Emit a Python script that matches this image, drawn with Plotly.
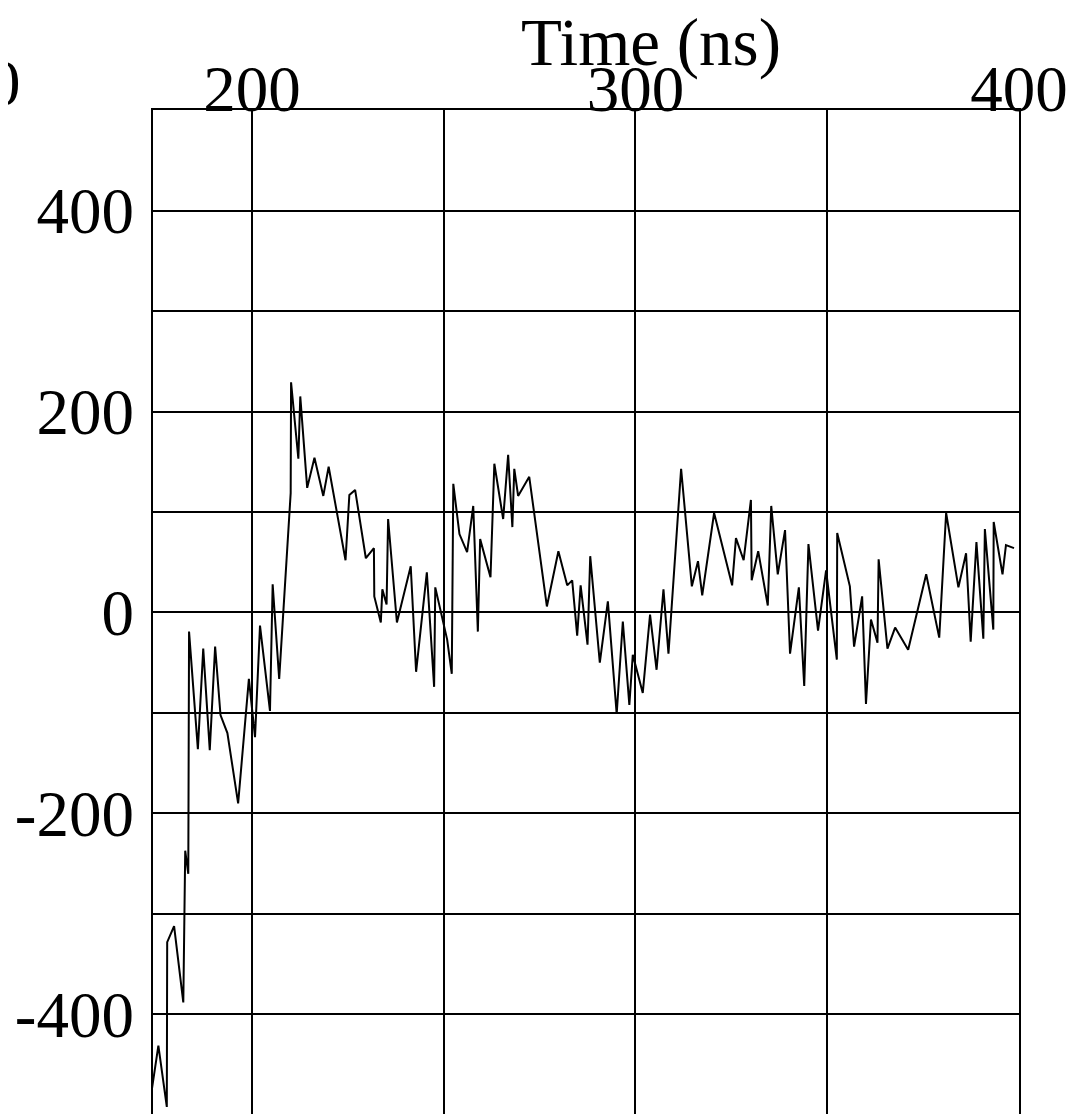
import plotly.graph_objects as go

# Time axis (ns) and signal values
time_ns = [173.1, 175.6, 177.8, 177.9, 179.7, 182.1, 182.6, 183.4, 183.6, 185.9,
           187.3, 189.0, 190.4, 191.8, 193.6, 196.4, 199.2, 200.8, 202.1, 204.7,
           205.4, 207.1, 210.1, 210.2, 212.1, 212.6, 214.4, 216.3, 218.6, 220.0,
           224.4, 225.4, 226.9, 229.7, 231.8, 231.9, 233.6, 234.0, 235.1, 235.5,
           237.8, 241.4, 242.8, 245.6, 247.5, 247.8, 250.9, 252.1, 252.5, 254.1,
           256.1, 257.7, 258.9, 259.5, 262.2, 263.2, 265.5, 266.8, 267.9, 268.4,
           269.4, 272.3, 276.9, 279.9, 282.2, 283.5, 284.8, 285.7, 287.5, 288.2,
           290.7, 292.8, 295.1, 296.7, 298.4, 299.3, 301.9, 303.8, 305.5, 307.3,
           308.6, 311.9, 314.7, 316.3, 317.4, 320.5, 325.2, 326.2, 328.2, 330.1,
           330.3, 332.0, 334.5, 335.4, 337.1, 339.0, 340.3, 342.6, 344.0, 345.1,
           347.6, 349.7, 352.5, 352.6, 355.9, 357.0, 359.1, 360.1, 361.4, 363.1,
           363.4, 365.7, 367.7, 371.1, 375.8, 379.2, 381.0, 384.2, 386.2, 387.4,
           388.9, 390.7, 391.1, 393.3, 393.4, 395.7, 396.6, 398.7]

values = [-495, -431, -492, -328, -312, -388, -237, -260, -19, -136,
          -36, -137, -34, -102, -120, -190, -66, -124, -13, -98,
          28, -66, 119, 229, 153, 215, 124, 154, 116, 145,
          52, 117, 122, 54, 64, 16, -10, 23, 8, 93,
          -10, 46, -59, 40, -74, 25, -27, -61, 128, 78,
          60, 106, -19, 73, 35, 148, 93, 157, 85, 143,
          116, 135, 6, 61, 27, 32, -23, 27, -32, 56,
          -50, 11, -101, -9, -92, -42, -80, -2, -57, 23,
          -41, 143, 26, 51, 17, 99, 27, 74, 52, 112,
          32, 61, 7, 106, 38, 82, -41, 25, -73, 68,
          -18, 42, -47, 79, 26, -34, 16, -91, -7, -30,
          53, -36, -15, -37, 38, -25, 99, 25, 59, -29,
          70, -26, 83, -17, 90, 38, 67, 64]

x_tickvals = [200, 250, 300, 350, 400]
x_ticktext = ["200", "", "300", "", "400"]
y_tickvals = [-400, -300, -200, -100, 0, 100, 200, 300, 400]
y_ticktext = ["-400", "", "-200", "", "0", "", "200", "", "400"]

FONT = "Liberation Serif, Times New Roman, serif"

fig = go.Figure()
fig.add_trace(go.Scatter(x=time_ns, y=values, mode="lines",
                         line=dict(color="black", width=2), showlegend=False))

fig.update_layout(
    width=1075, height=1110,
    margin=dict(l=145, r=64, t=102, b=0),
    paper_bgcolor="white", plot_bgcolor="white",
    font=dict(family=FONT, size=65, color="black"),
    xaxis=dict(side="top", range=[174.2, 400], tickmode="array",
               tickvals=x_tickvals, ticktext=x_ticktext,
               showgrid=True, gridcolor="black", gridwidth=2,
               showline=True, linecolor="black", linewidth=2, mirror=False,
               zeroline=False, ticks="", ticklabelstandoff=-29,
               tickfont=dict(family=FONT, size=65, color="black")),
    yaxis=dict(range=[-503, 500], tickmode="array",
               tickvals=y_tickvals, ticktext=y_ticktext,
               showgrid=True, gridcolor="black", gridwidth=2,
               showline=True, linecolor="black", linewidth=2, mirror=True,
               zeroline=False, ticks="", ticklabelstandoff=4,
               tickfont=dict(family=FONT, size=65, color="black")),
    annotations=[
        dict(text="Time (ns)", xref="paper", yref="paper", x=0.575, y=1.0,
             xanchor="center", yanchor="bottom", yshift=28, showarrow=False,
             font=dict(family=FONT, size=67, color="black")),
        dict(text="0", xref="paper", yref="paper", x=(23 - 153) / 866, y=1.0,
             xanchor="right", yanchor="middle", yshift=27, showarrow=False,
             font=dict(family=FONT, size=65, color="black")),
    ],
)

fig.write_html("out.html")
